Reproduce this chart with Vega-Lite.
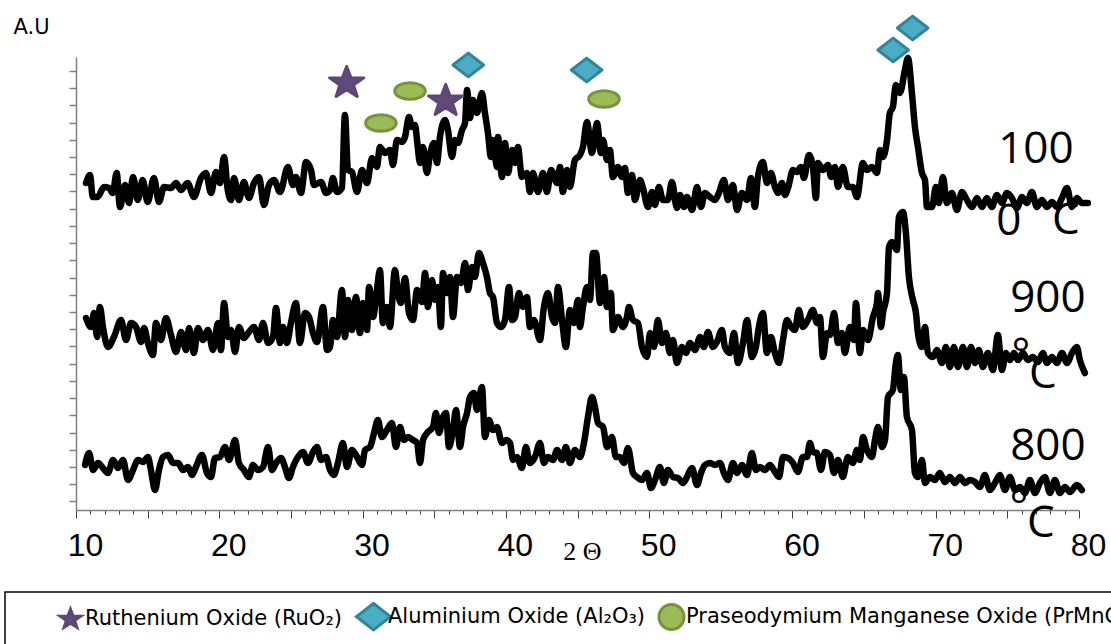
{
"$schema": "https://vega.github.io/schema/vega-lite/v6.json",
"width": 1003, "height": 453,
"autosize": {"type": "none"},
"padding": {"left": 76, "top": 57, "right": 32, "bottom": 134},
"background": "white",
"config": {
 "view": {"stroke": null},
 "legend": {"labelFont": "DejaVu Sans", "labelFontSize": 21, "labelColor": "black", "labelLimit": 0, "symbolStrokeWidth": 3, "symbolSize": 1444, "symbolOpacity": 1, "strokeColor": "black", "strokeWidth": 1.5, "padding": 12, "columnPadding": 7, "labelOffset": 2}
},
"datasets": {
"lines": [
{"s":1000,"x":10.70,"y":327},{"s":1000,"x":10.98,"y":335},{"s":1000,"x":11.17,"y":313},{"s":1000,"x":11.51,"y":313},{"s":1000,"x":11.95,"y":323},{"s":1000,"x":12.32,"y":322},{"s":1000,"x":12.56,"y":317},{"s":1000,"x":12.84,"y":337},{"s":1000,"x":13.07,"y":303},{"s":1000,"x":13.42,"y":325},{"s":1000,"x":13.70,"y":307},{"s":1000,"x":13.98,"y":333},{"s":1000,"x":14.31,"y":310},{"s":1000,"x":14.65,"y":330},{"s":1000,"x":15.00,"y":308},{"s":1000,"x":15.44,"y":332},{"s":1000,"x":15.79,"y":308},{"s":1000,"x":16.14,"y":323},{"s":1000,"x":16.63,"y":322},{"s":1000,"x":16.98,"y":327},{"s":1000,"x":17.33,"y":320},{"s":1000,"x":17.79,"y":327},{"s":1000,"x":18.23,"y":313},{"s":1000,"x":18.72,"y":332},{"s":1000,"x":19.07,"y":337},{"s":1000,"x":19.42,"y":317},{"s":1000,"x":19.77,"y":338},{"s":1000,"x":20.05,"y":327},{"s":1000,"x":20.33,"y":353},{"s":1000,"x":20.59,"y":320},{"s":1000,"x":20.82,"y":310},{"s":1000,"x":21.03,"y":332},{"s":1000,"x":21.37,"y":310},{"s":1000,"x":21.72,"y":328},{"s":1000,"x":22.07,"y":312},{"s":1000,"x":22.42,"y":327},{"s":1000,"x":22.77,"y":333},{"s":1000,"x":23.12,"y":305},{"s":1000,"x":23.47,"y":325},{"s":1000,"x":23.82,"y":330},{"s":1000,"x":24.24,"y":318},{"s":1000,"x":24.79,"y":343},{"s":1000,"x":25.14,"y":325},{"s":1000,"x":25.35,"y":333},{"s":1000,"x":25.70,"y":317},{"s":1000,"x":26.05,"y":348},{"s":1000,"x":26.40,"y":340},{"s":1000,"x":26.61,"y":325},{"s":1000,"x":27.10,"y":328},{"s":1000,"x":27.45,"y":317},{"s":1000,"x":27.73,"y":320},{"s":1000,"x":27.93,"y":332},{"s":1000,"x":28.21,"y":318},{"s":1000,"x":28.56,"y":322},{"s":1000,"x":28.77,"y":395},{"s":1000,"x":28.98,"y":340},{"s":1000,"x":29.26,"y":338},{"s":1000,"x":29.61,"y":318},{"s":1000,"x":29.96,"y":340},{"s":1000,"x":30.31,"y":327},{"s":1000,"x":30.66,"y":352},{"s":1000,"x":31.00,"y":343},{"s":1000,"x":31.21,"y":363},{"s":1000,"x":31.56,"y":357},{"s":1000,"x":31.91,"y":360},{"s":1000,"x":32.12,"y":345},{"s":1000,"x":32.40,"y":370},{"s":1000,"x":32.75,"y":368},{"s":1000,"x":32.96,"y":373},{"s":1000,"x":33.24,"y":393},{"s":1000,"x":33.45,"y":383},{"s":1000,"x":33.66,"y":385},{"s":1000,"x":33.80,"y":370},{"s":1000,"x":34.01,"y":347},{"s":1000,"x":34.22,"y":363},{"s":1000,"x":34.49,"y":337},{"s":1000,"x":34.70,"y":355},{"s":1000,"x":34.98,"y":367},{"s":1000,"x":35.19,"y":347},{"s":1000,"x":35.40,"y":373},{"s":1000,"x":35.75,"y":390},{"s":1000,"x":35.96,"y":380},{"s":1000,"x":36.24,"y":353},{"s":1000,"x":36.45,"y":370},{"s":1000,"x":36.66,"y":367},{"s":1000,"x":36.94,"y":380},{"s":1000,"x":37.15,"y":387},{"s":1000,"x":37.29,"y":420},{"s":1000,"x":37.50,"y":392},{"s":1000,"x":37.70,"y":410},{"s":1000,"x":37.98,"y":397},{"s":1000,"x":38.33,"y":417},{"s":1000,"x":38.54,"y":397},{"s":1000,"x":38.75,"y":377},{"s":1000,"x":38.96,"y":353},{"s":1000,"x":39.10,"y":370},{"s":1000,"x":39.38,"y":343},{"s":1000,"x":39.45,"y":373},{"s":1000,"x":39.73,"y":333},{"s":1000,"x":39.94,"y":367},{"s":1000,"x":40.15,"y":337},{"s":1000,"x":40.43,"y":360},{"s":1000,"x":40.64,"y":347},{"s":1000,"x":40.84,"y":363},{"s":1000,"x":41.12,"y":333},{"s":1000,"x":41.47,"y":337},{"s":1000,"x":41.68,"y":318},{"s":1000,"x":41.89,"y":337},{"s":1000,"x":42.24,"y":318},{"s":1000,"x":42.59,"y":337},{"s":1000,"x":42.87,"y":318},{"s":1000,"x":43.15,"y":340},{"s":1000,"x":43.57,"y":327},{"s":1000,"x":43.78,"y":343},{"s":1000,"x":43.98,"y":318},{"s":1000,"x":44.26,"y":340},{"s":1000,"x":44.47,"y":323},{"s":1000,"x":44.82,"y":350},{"s":1000,"x":45.17,"y":355},{"s":1000,"x":45.38,"y":363},{"s":1000,"x":45.66,"y":388},{"s":1000,"x":46.01,"y":357},{"s":1000,"x":46.36,"y":387},{"s":1000,"x":46.64,"y":357},{"s":1000,"x":46.78,"y":370},{"s":1000,"x":47.06,"y":350},{"s":1000,"x":47.26,"y":360},{"s":1000,"x":47.47,"y":333},{"s":1000,"x":47.82,"y":343},{"s":1000,"x":48.10,"y":333},{"s":1000,"x":48.31,"y":342},{"s":1000,"x":48.52,"y":317},{"s":1000,"x":48.80,"y":335},{"s":1000,"x":49.01,"y":310},{"s":1000,"x":49.36,"y":330},{"s":1000,"x":49.57,"y":322},{"s":1000,"x":49.92,"y":303},{"s":1000,"x":50.20,"y":318},{"s":1000,"x":50.41,"y":305},{"s":1000,"x":50.68,"y":323},{"s":1000,"x":50.96,"y":310},{"s":1000,"x":51.31,"y":310},{"s":1000,"x":51.59,"y":328},{"s":1000,"x":51.94,"y":302},{"s":1000,"x":52.15,"y":315},{"s":1000,"x":52.43,"y":303},{"s":1000,"x":52.64,"y":313},{"s":1000,"x":52.99,"y":300},{"s":1000,"x":53.34,"y":323},{"s":1000,"x":53.62,"y":303},{"s":1000,"x":53.89,"y":317},{"s":1000,"x":54.24,"y":313},{"s":1000,"x":54.59,"y":310},{"s":1000,"x":54.87,"y":317},{"s":1000,"x":55.22,"y":330},{"s":1000,"x":55.50,"y":310},{"s":1000,"x":55.85,"y":325},{"s":1000,"x":56.13,"y":300},{"s":1000,"x":56.48,"y":317},{"s":1000,"x":56.83,"y":310},{"s":1000,"x":57.10,"y":332},{"s":1000,"x":57.38,"y":303},{"s":1000,"x":57.59,"y":333},{"s":1000,"x":57.94,"y":348},{"s":1000,"x":58.22,"y":327},{"s":1000,"x":58.50,"y":337},{"s":1000,"x":58.78,"y":323},{"s":1000,"x":58.99,"y":317},{"s":1000,"x":59.27,"y":327},{"s":1000,"x":59.48,"y":315},{"s":1000,"x":59.69,"y":322},{"s":1000,"x":60.04,"y":340},{"s":1000,"x":60.31,"y":338},{"s":1000,"x":60.59,"y":343},{"s":1000,"x":60.80,"y":332},{"s":1000,"x":61.15,"y":355},{"s":1000,"x":61.43,"y":343},{"s":1000,"x":61.64,"y":312},{"s":1000,"x":61.78,"y":347},{"s":1000,"x":62.13,"y":340},{"s":1000,"x":62.48,"y":345},{"s":1000,"x":62.70,"y":333},{"s":1000,"x":62.97,"y":343},{"s":1000,"x":63.18,"y":323},{"s":1000,"x":63.52,"y":343},{"s":1000,"x":63.87,"y":323},{"s":1000,"x":64.22,"y":323},{"s":1000,"x":64.50,"y":313},{"s":1000,"x":64.92,"y":347},{"s":1000,"x":65.20,"y":340},{"s":1000,"x":65.55,"y":343},{"s":1000,"x":65.90,"y":337},{"s":1000,"x":66.11,"y":360},{"s":1000,"x":66.32,"y":353},{"s":1000,"x":66.60,"y":370},{"s":1000,"x":66.80,"y":397},{"s":1000,"x":67.01,"y":403},{"s":1000,"x":67.22,"y":425},{"s":1000,"x":67.50,"y":417},{"s":1000,"x":67.85,"y":440},{"s":1000,"x":68.06,"y":452},{"s":1000,"x":68.34,"y":417},{"s":1000,"x":68.55,"y":383},{"s":1000,"x":68.76,"y":363},{"s":1000,"x":69.04,"y":337},{"s":1000,"x":69.25,"y":330},{"s":1000,"x":69.39,"y":303},{"s":1000,"x":69.74,"y":303},{"s":1000,"x":70.01,"y":323},{"s":1000,"x":70.22,"y":307},{"s":1000,"x":70.50,"y":333},{"s":1000,"x":70.78,"y":307},{"s":1000,"x":71.13,"y":317},{"s":1000,"x":71.48,"y":300},{"s":1000,"x":71.83,"y":318},{"s":1000,"x":72.18,"y":310},{"s":1000,"x":72.53,"y":303},{"s":1000,"x":72.88,"y":312},{"s":1000,"x":73.22,"y":303},{"s":1000,"x":73.57,"y":312},{"s":1000,"x":73.92,"y":303},{"s":1000,"x":74.27,"y":315},{"s":1000,"x":74.62,"y":307},{"s":1000,"x":74.97,"y":317},{"s":1000,"x":75.32,"y":312},{"s":1000,"x":75.67,"y":302},{"s":1000,"x":76.02,"y":313},{"s":1000,"x":76.36,"y":307},{"s":1000,"x":76.71,"y":318},{"s":1000,"x":77.06,"y":303},{"s":1000,"x":77.41,"y":310},{"s":1000,"x":77.76,"y":303},{"s":1000,"x":78.11,"y":308},{"s":1000,"x":78.46,"y":303},{"s":1000,"x":78.81,"y":312},{"s":1000,"x":79.16,"y":322},{"s":1000,"x":79.51,"y":303},{"s":1000,"x":79.85,"y":312},{"s":1000,"x":80.20,"y":307},{"s":1000,"x":80.62,"y":307},
{"s":900,"x":10.70,"y":192},{"s":900,"x":11.05,"y":183},{"s":900,"x":11.26,"y":197},{"s":900,"x":11.47,"y":173},{"s":900,"x":11.67,"y":203},{"s":900,"x":11.88,"y":183},{"s":900,"x":12.23,"y":163},{"s":900,"x":12.65,"y":173},{"s":900,"x":13.14,"y":190},{"s":900,"x":13.49,"y":170},{"s":900,"x":13.84,"y":187},{"s":900,"x":14.19,"y":183},{"s":900,"x":14.54,"y":168},{"s":900,"x":14.75,"y":182},{"s":900,"x":15.02,"y":167},{"s":900,"x":15.37,"y":155},{"s":900,"x":15.58,"y":187},{"s":900,"x":15.93,"y":170},{"s":900,"x":16.28,"y":192},{"s":900,"x":16.63,"y":175},{"s":900,"x":16.98,"y":158},{"s":900,"x":17.33,"y":178},{"s":900,"x":17.68,"y":160},{"s":900,"x":17.89,"y":182},{"s":900,"x":18.23,"y":157},{"s":900,"x":18.51,"y":182},{"s":900,"x":18.86,"y":170},{"s":900,"x":19.21,"y":180},{"s":900,"x":19.56,"y":160},{"s":900,"x":19.91,"y":187},{"s":900,"x":20.12,"y":160},{"s":900,"x":20.33,"y":207},{"s":900,"x":20.61,"y":173},{"s":900,"x":20.82,"y":180},{"s":900,"x":21.10,"y":158},{"s":900,"x":21.37,"y":183},{"s":900,"x":21.72,"y":172},{"s":900,"x":22.07,"y":178},{"s":900,"x":22.42,"y":183},{"s":900,"x":22.77,"y":170},{"s":900,"x":23.05,"y":187},{"s":900,"x":23.40,"y":167},{"s":900,"x":23.75,"y":173},{"s":900,"x":23.96,"y":202},{"s":900,"x":24.24,"y":167},{"s":900,"x":24.45,"y":183},{"s":900,"x":24.72,"y":167},{"s":900,"x":25.00,"y":187},{"s":900,"x":25.35,"y":207},{"s":900,"x":25.63,"y":167},{"s":900,"x":25.98,"y":197},{"s":900,"x":26.26,"y":193},{"s":900,"x":26.54,"y":177},{"s":900,"x":26.82,"y":168},{"s":900,"x":27.24,"y":203},{"s":900,"x":27.52,"y":160},{"s":900,"x":27.73,"y":163},{"s":900,"x":27.93,"y":190},{"s":900,"x":28.21,"y":173},{"s":900,"x":28.56,"y":220},{"s":900,"x":28.77,"y":173},{"s":900,"x":28.98,"y":210},{"s":900,"x":29.26,"y":180},{"s":900,"x":29.54,"y":213},{"s":900,"x":29.82,"y":177},{"s":900,"x":30.03,"y":207},{"s":900,"x":30.31,"y":180},{"s":900,"x":30.45,"y":223},{"s":900,"x":30.73,"y":193},{"s":900,"x":31.00,"y":220},{"s":900,"x":31.21,"y":240},{"s":900,"x":31.42,"y":187},{"s":900,"x":31.70,"y":203},{"s":900,"x":31.91,"y":183},{"s":900,"x":32.26,"y":240},{"s":900,"x":32.47,"y":217},{"s":900,"x":32.68,"y":207},{"s":900,"x":32.96,"y":232},{"s":900,"x":33.24,"y":197},{"s":900,"x":33.52,"y":190},{"s":900,"x":33.80,"y":220},{"s":900,"x":34.15,"y":208},{"s":900,"x":34.36,"y":237},{"s":900,"x":34.56,"y":203},{"s":900,"x":34.84,"y":230},{"s":900,"x":35.05,"y":210},{"s":900,"x":35.26,"y":223},{"s":900,"x":35.47,"y":183},{"s":900,"x":35.61,"y":237},{"s":900,"x":35.89,"y":217},{"s":900,"x":36.10,"y":233},{"s":900,"x":36.31,"y":193},{"s":900,"x":36.59,"y":233},{"s":900,"x":36.87,"y":227},{"s":900,"x":37.15,"y":247},{"s":900,"x":37.36,"y":220},{"s":900,"x":37.63,"y":243},{"s":900,"x":37.84,"y":233},{"s":900,"x":38.12,"y":257},{"s":900,"x":38.40,"y":247},{"s":900,"x":38.68,"y":233},{"s":900,"x":38.89,"y":217},{"s":900,"x":39.10,"y":213},{"s":900,"x":39.38,"y":187},{"s":900,"x":39.66,"y":183},{"s":900,"x":39.94,"y":190},{"s":900,"x":40.22,"y":223},{"s":900,"x":40.43,"y":190},{"s":900,"x":40.64,"y":193},{"s":900,"x":40.91,"y":217},{"s":900,"x":41.19,"y":203},{"s":900,"x":41.47,"y":213},{"s":900,"x":41.68,"y":183},{"s":900,"x":41.96,"y":190},{"s":900,"x":42.38,"y":170},{"s":900,"x":42.66,"y":203},{"s":900,"x":42.94,"y":217},{"s":900,"x":43.22,"y":193},{"s":900,"x":43.43,"y":187},{"s":900,"x":43.64,"y":223},{"s":900,"x":43.92,"y":190},{"s":900,"x":44.19,"y":163},{"s":900,"x":44.47,"y":200},{"s":900,"x":44.75,"y":187},{"s":900,"x":45.03,"y":210},{"s":900,"x":45.17,"y":183},{"s":900,"x":45.38,"y":203},{"s":900,"x":45.66,"y":223},{"s":900,"x":45.87,"y":210},{"s":900,"x":46.08,"y":257},{"s":900,"x":46.29,"y":257},{"s":900,"x":46.57,"y":207},{"s":900,"x":46.85,"y":233},{"s":900,"x":47.06,"y":203},{"s":900,"x":47.33,"y":217},{"s":900,"x":47.47,"y":180},{"s":900,"x":47.82,"y":193},{"s":900,"x":48.17,"y":183},{"s":900,"x":48.45,"y":193},{"s":900,"x":48.59,"y":203},{"s":900,"x":48.87,"y":190},{"s":900,"x":49.22,"y":187},{"s":900,"x":49.50,"y":163},{"s":900,"x":49.85,"y":153},{"s":900,"x":50.06,"y":177},{"s":900,"x":50.34,"y":163},{"s":900,"x":50.61,"y":190},{"s":900,"x":50.89,"y":167},{"s":900,"x":51.17,"y":177},{"s":900,"x":51.45,"y":157},{"s":900,"x":51.66,"y":170},{"s":900,"x":51.94,"y":147},{"s":900,"x":52.29,"y":163},{"s":900,"x":52.57,"y":157},{"s":900,"x":52.85,"y":167},{"s":900,"x":53.20,"y":160},{"s":900,"x":53.55,"y":173},{"s":900,"x":53.82,"y":163},{"s":900,"x":54.10,"y":178},{"s":900,"x":54.45,"y":163},{"s":900,"x":54.73,"y":168},{"s":900,"x":55.08,"y":180},{"s":900,"x":55.29,"y":163},{"s":900,"x":55.64,"y":157},{"s":900,"x":55.92,"y":177},{"s":900,"x":56.20,"y":147},{"s":900,"x":56.55,"y":167},{"s":900,"x":56.83,"y":190},{"s":900,"x":57.17,"y":153},{"s":900,"x":57.45,"y":163},{"s":900,"x":57.66,"y":183},{"s":900,"x":57.94,"y":197},{"s":900,"x":58.22,"y":157},{"s":900,"x":58.50,"y":173},{"s":900,"x":58.78,"y":157},{"s":900,"x":59.06,"y":147},{"s":900,"x":59.34,"y":170},{"s":900,"x":59.62,"y":190},{"s":900,"x":59.90,"y":183},{"s":900,"x":60.17,"y":180},{"s":900,"x":60.45,"y":200},{"s":900,"x":60.73,"y":183},{"s":900,"x":61.08,"y":190},{"s":900,"x":61.43,"y":200},{"s":900,"x":61.71,"y":187},{"s":900,"x":61.92,"y":193},{"s":900,"x":62.13,"y":153},{"s":900,"x":62.41,"y":177},{"s":900,"x":62.62,"y":175},{"s":900,"x":62.90,"y":197},{"s":900,"x":63.18,"y":167},{"s":900,"x":63.45,"y":177},{"s":900,"x":63.66,"y":157},{"s":900,"x":64.01,"y":183},{"s":900,"x":64.29,"y":170},{"s":900,"x":64.43,"y":207},{"s":900,"x":64.71,"y":157},{"s":900,"x":64.92,"y":180},{"s":900,"x":65.27,"y":170},{"s":900,"x":65.62,"y":193},{"s":900,"x":65.90,"y":207},{"s":900,"x":65.97,"y":217},{"s":900,"x":66.18,"y":183},{"s":900,"x":66.32,"y":197},{"s":900,"x":66.60,"y":217},{"s":900,"x":66.74,"y":263},{"s":900,"x":66.95,"y":268},{"s":900,"x":67.29,"y":260},{"s":900,"x":67.43,"y":293},{"s":900,"x":67.71,"y":298},{"s":900,"x":67.92,"y":277},{"s":900,"x":68.13,"y":233},{"s":900,"x":68.41,"y":210},{"s":900,"x":68.62,"y":197},{"s":900,"x":68.76,"y":177},{"s":900,"x":69.04,"y":163},{"s":900,"x":69.25,"y":183},{"s":900,"x":69.46,"y":157},{"s":900,"x":69.81,"y":153},{"s":900,"x":70.08,"y":160},{"s":900,"x":70.43,"y":147},{"s":900,"x":70.71,"y":163},{"s":900,"x":70.99,"y":143},{"s":900,"x":71.27,"y":163},{"s":900,"x":71.55,"y":143},{"s":900,"x":71.90,"y":163},{"s":900,"x":72.18,"y":143},{"s":900,"x":72.46,"y":163},{"s":900,"x":72.74,"y":147},{"s":900,"x":73.01,"y":160},{"s":900,"x":73.29,"y":143},{"s":900,"x":73.64,"y":157},{"s":900,"x":73.99,"y":140},{"s":900,"x":74.34,"y":175},{"s":900,"x":74.62,"y":140},{"s":900,"x":74.90,"y":157},{"s":900,"x":75.18,"y":150},{"s":900,"x":75.46,"y":157},{"s":900,"x":75.74,"y":150},{"s":900,"x":76.09,"y":157},{"s":900,"x":76.43,"y":150},{"s":900,"x":76.78,"y":153},{"s":900,"x":77.13,"y":148},{"s":900,"x":77.48,"y":157},{"s":900,"x":77.76,"y":147},{"s":900,"x":78.11,"y":153},{"s":900,"x":78.46,"y":147},{"s":900,"x":78.81,"y":157},{"s":900,"x":79.16,"y":147},{"s":900,"x":79.51,"y":157},{"s":900,"x":79.85,"y":163},{"s":900,"x":80.06,"y":150},{"s":900,"x":80.41,"y":137},
{"s":800,"x":10.63,"y":45},{"s":800,"x":10.91,"y":57},{"s":800,"x":11.19,"y":40},{"s":800,"x":11.54,"y":47},{"s":800,"x":11.88,"y":42},{"s":800,"x":12.23,"y":37},{"s":800,"x":12.58,"y":50},{"s":800,"x":12.93,"y":42},{"s":800,"x":13.28,"y":50},{"s":800,"x":13.63,"y":30},{"s":800,"x":13.98,"y":40},{"s":800,"x":14.33,"y":50},{"s":800,"x":14.68,"y":48},{"s":800,"x":15.02,"y":53},{"s":800,"x":15.23,"y":40},{"s":800,"x":15.51,"y":20},{"s":800,"x":15.79,"y":40},{"s":800,"x":16.07,"y":53},{"s":800,"x":16.42,"y":55},{"s":800,"x":16.77,"y":47},{"s":800,"x":17.12,"y":47},{"s":800,"x":17.47,"y":40},{"s":800,"x":17.82,"y":43},{"s":800,"x":18.09,"y":35},{"s":800,"x":18.37,"y":43},{"s":800,"x":18.79,"y":55},{"s":800,"x":19.14,"y":37},{"s":800,"x":19.42,"y":33},{"s":800,"x":19.70,"y":52},{"s":800,"x":20.05,"y":53},{"s":800,"x":20.40,"y":63},{"s":800,"x":20.68,"y":50},{"s":800,"x":21.10,"y":70},{"s":800,"x":21.37,"y":47},{"s":800,"x":21.72,"y":40},{"s":800,"x":22.07,"y":33},{"s":800,"x":22.35,"y":45},{"s":800,"x":22.70,"y":40},{"s":800,"x":23.05,"y":43},{"s":800,"x":23.40,"y":63},{"s":800,"x":23.68,"y":40},{"s":800,"x":23.96,"y":47},{"s":800,"x":24.31,"y":52},{"s":800,"x":24.58,"y":43},{"s":800,"x":24.86,"y":32},{"s":800,"x":25.14,"y":43},{"s":800,"x":25.49,"y":53},{"s":800,"x":25.84,"y":58},{"s":800,"x":26.19,"y":47},{"s":800,"x":26.54,"y":58},{"s":800,"x":26.82,"y":63},{"s":800,"x":27.10,"y":50},{"s":800,"x":27.45,"y":53},{"s":800,"x":27.73,"y":40},{"s":800,"x":28.00,"y":35},{"s":800,"x":28.28,"y":47},{"s":800,"x":28.63,"y":67},{"s":800,"x":28.91,"y":43},{"s":800,"x":29.26,"y":60},{"s":800,"x":29.54,"y":55},{"s":800,"x":29.96,"y":45},{"s":800,"x":30.17,"y":60},{"s":800,"x":30.52,"y":63},{"s":800,"x":30.80,"y":77},{"s":800,"x":31.07,"y":90},{"s":800,"x":31.35,"y":73},{"s":800,"x":31.70,"y":80},{"s":800,"x":32.05,"y":87},{"s":800,"x":32.33,"y":63},{"s":800,"x":32.61,"y":83},{"s":800,"x":32.89,"y":70},{"s":800,"x":33.17,"y":73},{"s":800,"x":33.52,"y":70},{"s":800,"x":33.80,"y":67},{"s":800,"x":34.01,"y":47},{"s":800,"x":34.22,"y":70},{"s":800,"x":34.56,"y":78},{"s":800,"x":34.91,"y":83},{"s":800,"x":35.12,"y":97},{"s":800,"x":35.33,"y":77},{"s":800,"x":35.61,"y":93},{"s":800,"x":35.82,"y":97},{"s":800,"x":36.03,"y":63},{"s":800,"x":36.31,"y":80},{"s":800,"x":36.52,"y":100},{"s":800,"x":36.80,"y":63},{"s":800,"x":37.01,"y":83},{"s":800,"x":37.29,"y":97},{"s":800,"x":37.50,"y":113},{"s":800,"x":37.77,"y":117},{"s":800,"x":37.98,"y":100},{"s":800,"x":38.33,"y":123},{"s":800,"x":38.54,"y":73},{"s":800,"x":38.82,"y":90},{"s":800,"x":39.10,"y":80},{"s":800,"x":39.38,"y":83},{"s":800,"x":39.73,"y":67},{"s":800,"x":40.01,"y":70},{"s":800,"x":40.29,"y":67},{"s":800,"x":40.50,"y":50},{"s":800,"x":40.77,"y":53},{"s":800,"x":41.12,"y":42},{"s":800,"x":41.40,"y":63},{"s":800,"x":41.68,"y":47},{"s":800,"x":42.03,"y":53},{"s":800,"x":42.38,"y":67},{"s":800,"x":42.66,"y":47},{"s":800,"x":42.94,"y":53},{"s":800,"x":43.29,"y":50},{"s":800,"x":43.57,"y":60},{"s":800,"x":43.92,"y":50},{"s":800,"x":44.19,"y":63},{"s":800,"x":44.47,"y":47},{"s":800,"x":44.82,"y":60},{"s":800,"x":45.17,"y":53},{"s":800,"x":45.45,"y":67},{"s":800,"x":45.73,"y":93},{"s":800,"x":46.01,"y":113},{"s":800,"x":46.22,"y":103},{"s":800,"x":46.43,"y":87},{"s":800,"x":46.78,"y":83},{"s":800,"x":47.06,"y":63},{"s":800,"x":47.40,"y":73},{"s":800,"x":47.68,"y":53},{"s":800,"x":47.96,"y":53},{"s":800,"x":48.24,"y":47},{"s":800,"x":48.52,"y":62},{"s":800,"x":48.87,"y":37},{"s":800,"x":49.15,"y":33},{"s":800,"x":49.50,"y":30},{"s":800,"x":49.85,"y":37},{"s":800,"x":50.13,"y":22},{"s":800,"x":50.41,"y":30},{"s":800,"x":50.75,"y":43},{"s":800,"x":51.03,"y":27},{"s":800,"x":51.31,"y":40},{"s":800,"x":51.66,"y":33},{"s":800,"x":52.01,"y":32},{"s":800,"x":52.36,"y":27},{"s":800,"x":52.64,"y":33},{"s":800,"x":52.99,"y":42},{"s":800,"x":53.34,"y":25},{"s":800,"x":53.62,"y":37},{"s":800,"x":53.89,"y":45},{"s":800,"x":54.24,"y":47},{"s":800,"x":54.59,"y":45},{"s":800,"x":54.94,"y":47},{"s":800,"x":55.22,"y":37},{"s":800,"x":55.50,"y":30},{"s":800,"x":55.85,"y":47},{"s":800,"x":56.13,"y":37},{"s":800,"x":56.48,"y":45},{"s":800,"x":56.83,"y":35},{"s":800,"x":57.17,"y":57},{"s":800,"x":57.45,"y":40},{"s":800,"x":57.73,"y":43},{"s":800,"x":58.08,"y":40},{"s":800,"x":58.43,"y":45},{"s":800,"x":58.78,"y":38},{"s":800,"x":59.06,"y":33},{"s":800,"x":59.34,"y":53},{"s":800,"x":59.69,"y":52},{"s":800,"x":60.04,"y":47},{"s":800,"x":60.38,"y":38},{"s":800,"x":60.73,"y":53},{"s":800,"x":61.01,"y":53},{"s":800,"x":61.22,"y":67},{"s":800,"x":61.43,"y":58},{"s":800,"x":61.71,"y":57},{"s":800,"x":61.99,"y":40},{"s":800,"x":62.27,"y":58},{"s":800,"x":62.62,"y":55},{"s":800,"x":62.90,"y":37},{"s":800,"x":63.18,"y":50},{"s":800,"x":63.52,"y":33},{"s":800,"x":63.87,"y":53},{"s":800,"x":64.22,"y":47},{"s":800,"x":64.50,"y":60},{"s":800,"x":64.71,"y":50},{"s":800,"x":64.92,"y":73},{"s":800,"x":65.20,"y":60},{"s":800,"x":65.55,"y":53},{"s":800,"x":65.76,"y":70},{"s":800,"x":65.97,"y":83},{"s":800,"x":66.25,"y":63},{"s":800,"x":66.46,"y":70},{"s":800,"x":66.67,"y":113},{"s":800,"x":67.01,"y":120},{"s":800,"x":67.22,"y":147},{"s":800,"x":67.36,"y":155},{"s":800,"x":67.57,"y":120},{"s":800,"x":67.78,"y":133},{"s":800,"x":67.99,"y":93},{"s":800,"x":68.34,"y":80},{"s":800,"x":68.55,"y":37},{"s":800,"x":68.76,"y":33},{"s":800,"x":69.04,"y":50},{"s":800,"x":69.25,"y":27},{"s":800,"x":69.60,"y":33},{"s":800,"x":69.94,"y":30},{"s":800,"x":70.29,"y":37},{"s":800,"x":70.64,"y":28},{"s":800,"x":70.99,"y":33},{"s":800,"x":71.34,"y":27},{"s":800,"x":71.69,"y":33},{"s":800,"x":72.04,"y":27},{"s":800,"x":72.39,"y":30},{"s":800,"x":72.74,"y":28},{"s":800,"x":73.08,"y":23},{"s":800,"x":73.43,"y":35},{"s":800,"x":73.78,"y":20},{"s":800,"x":74.13,"y":27},{"s":800,"x":74.48,"y":35},{"s":800,"x":74.83,"y":20},{"s":800,"x":75.18,"y":33},{"s":800,"x":75.53,"y":20},{"s":800,"x":75.88,"y":23},{"s":800,"x":76.23,"y":17},{"s":800,"x":76.57,"y":30},{"s":800,"x":76.92,"y":17},{"s":800,"x":77.27,"y":27},{"s":800,"x":77.62,"y":33},{"s":800,"x":77.97,"y":17},{"s":800,"x":78.32,"y":30},{"s":800,"x":78.67,"y":17},{"s":800,"x":79.02,"y":23},{"s":800,"x":79.37,"y":18},{"s":800,"x":79.85,"y":25},{"s":800,"x":80.20,"y":20}
],
"phases": [
{"phase":"Ruthenium Oxide (RuO₂)","x":28.89,"y":427},
{"phase":"Ruthenium Oxide (RuO₂)","x":35.80,"y":409},
{"phase":"Praseodymium Manganese Oxide (PrMnO₃)","x":31.28,"y":387},
{"phase":"Praseodymium Manganese Oxide (PrMnO₃)","x":33.31,"y":419},
{"phase":"Praseodymium Manganese Oxide (PrMnO₃)","x":46.85,"y":411},
{"phase":"Aluminium Oxide (Al₂O₃)","x":37.38,"y":445},
{"phase":"Aluminium Oxide (Al₂O₃)","x":45.64,"y":440},
{"phase":"Aluminium Oxide (Al₂O₃)","x":67.03,"y":460},
{"phase":"Aluminium Oxide (Al₂O₃)","x":68.39,"y":482}
],
"labels": [
{"label":"100","x":76.99,"y":347},
{"label":"0","x":75.11,"y":275},
{"label":"C","x":79.09,"y":276},
{"label":"900","x":77.83,"y":198},
{"label":"°","x":75.95,"y":141},
{"label":"C","x":77.48,"y":122},
{"label":"800","x":77.83,"y":50},
{"label":"°","x":75.81,"y":-11},
{"label":"C","x":77.34,"y":-27}
]
},
"layer": [
{
 "data": {"name": "lines"},
 "mark": {"type": "line", "color": "black", "strokeWidth": 6.5, "interpolate": "monotone", "strokeJoin": "round", "strokeCap": "round"},
 "encoding": {
  "x": {"field": "x", "type": "quantitative", "scale": {"domain": [10, 80], "nice": false, "zero": false},
   "axis": {"values": [10,11,12,13,14,15,16,17,18,19,20,21,22,23,24,25,26,27,28,29,30,31,32,33,34,35,36,37,38,39,40,41,42,43,44,45,46,47,48,49,50,51,52,53,54,55,56,57,58,59,60,61,62,63,64,65,66,67,68,69,70,71,72,73,74,75,76,77,78,79,80],
    "tickCount": 71, "format": "d",
    "labelExpr": "datum.value % 10 === 0 ? datum.label : ''",
    "tickSize": {"condition": {"test": "datum.value % 5 === 0", "value": 8}, "value": 4},
    "tickColor": "#404040", "tickWidth": 1, "domainColor": "#808080", "domainWidth": 1.5, "grid": false,
    "labelFont": "Liberation Sans", "labelFontSize": 32, "labelColor": "black", "labelPadding": 12, "labelOffset": 9, "labelOverlap": false, "labelFlush": false,
    "title": "2 Θ", "titleFont": "Liberation Serif", "titleFontSize": 26, "titleFontWeight": "normal", "titleColor": "black",
    "titleX": 506, "titleY": 49, "titleAlign": "center", "titleBaseline": "alphabetic"}},
  "y": {"field": "y", "type": "quantitative", "scale": {"domain": [0, 453], "nice": false, "zero": false},
   "axis": {"values": [8.6,25.8,43.0,60.3,77.5,94.7,111.9,129.1,146.4,163.6,180.8,198.0,215.2,232.5,249.7,266.9,284.1,301.3,318.6,335.8,353.0,370.2,387.4,404.7,421.9,439.1],
    "tickCount": 26,
    "labels": false, "tickSize": 7, "tickColor": "#808080", "tickWidth": 1.5, "domainColor": "#808080", "domainWidth": 1.5, "grid": false,
    "title": "A.U", "titleAngle": 0, "titleAlign": "left", "titleBaseline": "alphabetic", "titleX": -63, "titleY": -24,
    "titleFont": "DejaVu Sans", "titleFontSize": 21, "titleFontWeight": "normal", "titleColor": "black"}},
  "detail": {"field": "s", "type": "nominal"}
 }
},
{
 "data": {"name": "phases"},
 "mark": {"type": "point", "filled": true, "size": 1296, "strokeWidth": 3, "opacity": 1, "strokeJoin": "round"},
 "encoding": {
  "x": {"field": "x", "type": "quantitative"},
  "y": {"field": "y", "type": "quantitative"},
  "shape": {"condition": {"test": "test(/Pras/, datum.phase)", "value": "M-0.85,0A0.85,0.46,0,1,1,0.85,0A0.85,0.46,0,1,1,-0.85,0Z"},
   "field": "phase", "type": "nominal", "title": null,
   "scale": {"domain": ["\u00a0", "Ruthenium Oxide (RuO₂)", "Aluminium Oxide (Al₂O₃)", "Praseodymium Manganese Oxide (PrMnO₃)"],
    "range": ["circle", "M0,-0.92L0.235,-0.298L0.951,-0.284L0.38,0.114L0.588,0.744L0,0.368L-0.588,0.744L-0.38,0.114L-0.951,-0.284L-0.235,-0.298Z", "M-0.85,0L0,-0.66L0.85,0L0,0.66Z", "circle"]},
   "legend": {"orient": "none", "legendX": -71, "legendY": 535, "direction": "horizontal",
    "encoding": {"symbols": {"size": {"value": {"expr": "test(/Alum/, datum.value) ? 1600 : test(/Pras/, datum.value) ? 625 : 466"}}}}}},
  "fill": {"field": "phase", "type": "nominal", "title": null,
   "scale": {"domain": ["\u00a0", "Ruthenium Oxide (RuO₂)", "Aluminium Oxide (Al₂O₃)", "Praseodymium Manganese Oxide (PrMnO₃)"], "range": ["rgba(255,255,255,0)", "#604a7b", "#4bacc6", "#9bbb59"]},
   "legend": {"orient": "none", "legendX": -71, "legendY": 535, "direction": "horizontal",
    "encoding": {"symbols": {"size": {"value": {"expr": "test(/Alum/, datum.value) ? 1600 : test(/Pras/, datum.value) ? 625 : 466"}}}}}},
  "stroke": {"field": "phase", "type": "nominal", "title": null,
   "scale": {"domain": ["\u00a0", "Ruthenium Oxide (RuO₂)", "Aluminium Oxide (Al₂O₃)", "Praseodymium Manganese Oxide (PrMnO₃)"], "range": ["rgba(255,255,255,0)", "#5c4776", "#31849b", "#77933c"]},
   "legend": {"orient": "none", "legendX": -71, "legendY": 535, "direction": "horizontal",
    "encoding": {"symbols": {"size": {"value": {"expr": "test(/Alum/, datum.value) ? 1600 : test(/Pras/, datum.value) ? 625 : 466"}}}}}}
 }
},
{
 "data": {"name": "labels"},
 "mark": {"type": "text", "font": "Open Sans", "fontSize": 44, "color": "black", "align": "center", "baseline": "alphabetic"},
 "encoding": {
  "x": {"field": "x", "type": "quantitative"},
  "y": {"field": "y", "type": "quantitative"},
  "text": {"field": "label"}
 }
}
]
}
